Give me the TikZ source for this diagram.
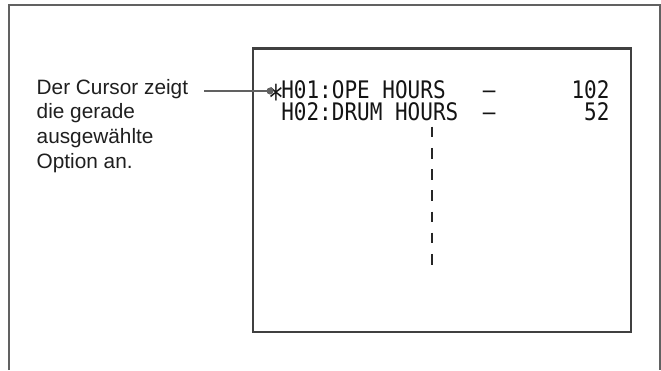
\documentclass[tikz,border=0pt]{standalone}
\usepackage{fontspec}
\setmainfont{Liberation Sans}
\newfontfamily\osd{DejaVu Sans Mono}
\newcommand{\tallosd}[1]{\scalebox{1}[1.15]{#1}}
\begin{document}
\begin{tikzpicture}[x=1pt,y=-1pt,
  frameline/.style={draw=black!62,line width=2.2pt},
  boxline/.style={draw=black!75,line width=2.2pt},
  calltext/.style={anchor=base west,inner sep=0pt,font=\fontsize{20.8}{24.7}\selectfont,text=black!88},
  osdtext/.style={inner sep=0pt,font=\osd\fontsize{21}{21}\selectfont,text=black!92},
  leader/.style={draw=black!62,line width=1.8pt},
  guide/.style={draw=black!85,line width=1.8pt,dash pattern=on 10.7pt off 10.5pt}]
\useasboundingbox (0,0) rectangle (661,370);
% outer frame (open at the bottom)
\draw[frameline] (9,370) -- (9,5) -- (660,5) -- (660,370);
% screen box
\node[boxline,rectangle,minimum width=378pt,minimum height=283.5pt,inner sep=0pt,anchor=north west] (screen) at (251.7,47.3) {};
% callout text
\node[calltext] (l1) at (36.5,94) {Der Cursor zeigt};
\node[calltext] (l2) at (36.5,118.7) {die gerade};
\node[calltext] (l3) at (36.5,143.3) {ausgewählte};
\node[calltext] (l4) at (36.5,168) {Option an.};
% menu lines
\node[osdtext,anchor=base west] (ast) at (267.8,98) {\raisebox{-0.62em}{\scalebox{1.25}[1.75]{*}}};
\node[osdtext,anchor=base west] (r1) at (281.1,98) {\tallosd{H01:OPE HOURS}};
\node[osdtext,anchor=base west] (d1) at (482.7,98) {\tallosd{–}};
\node[osdtext,anchor=base east] (n1) at (609.7,98) {\tallosd{102}};
\node[osdtext,anchor=base west] (r2) at (281.1,120) {\tallosd{H02:DRUM HOURS}};
\node[osdtext,anchor=base west] (d2) at (482.7,120) {\tallosd{–}};
\node[osdtext,anchor=base east] (n2) at (609.7,120) {\tallosd{52}};
% leader with dot
\coordinate (ls) at (204,91);
\node[circle,fill=black!62,inner sep=0pt,minimum size=7pt] (dot) at (270,91) {};
\draw[leader] (ls) -- (dot.center);
% vertical dashed continuation
\coordinate (gtop) at (432.3,126.7);
\coordinate (gbot) at (432.3,265.5);
\draw[guide] (gtop) -- (gbot);
\end{tikzpicture}
\end{document}
